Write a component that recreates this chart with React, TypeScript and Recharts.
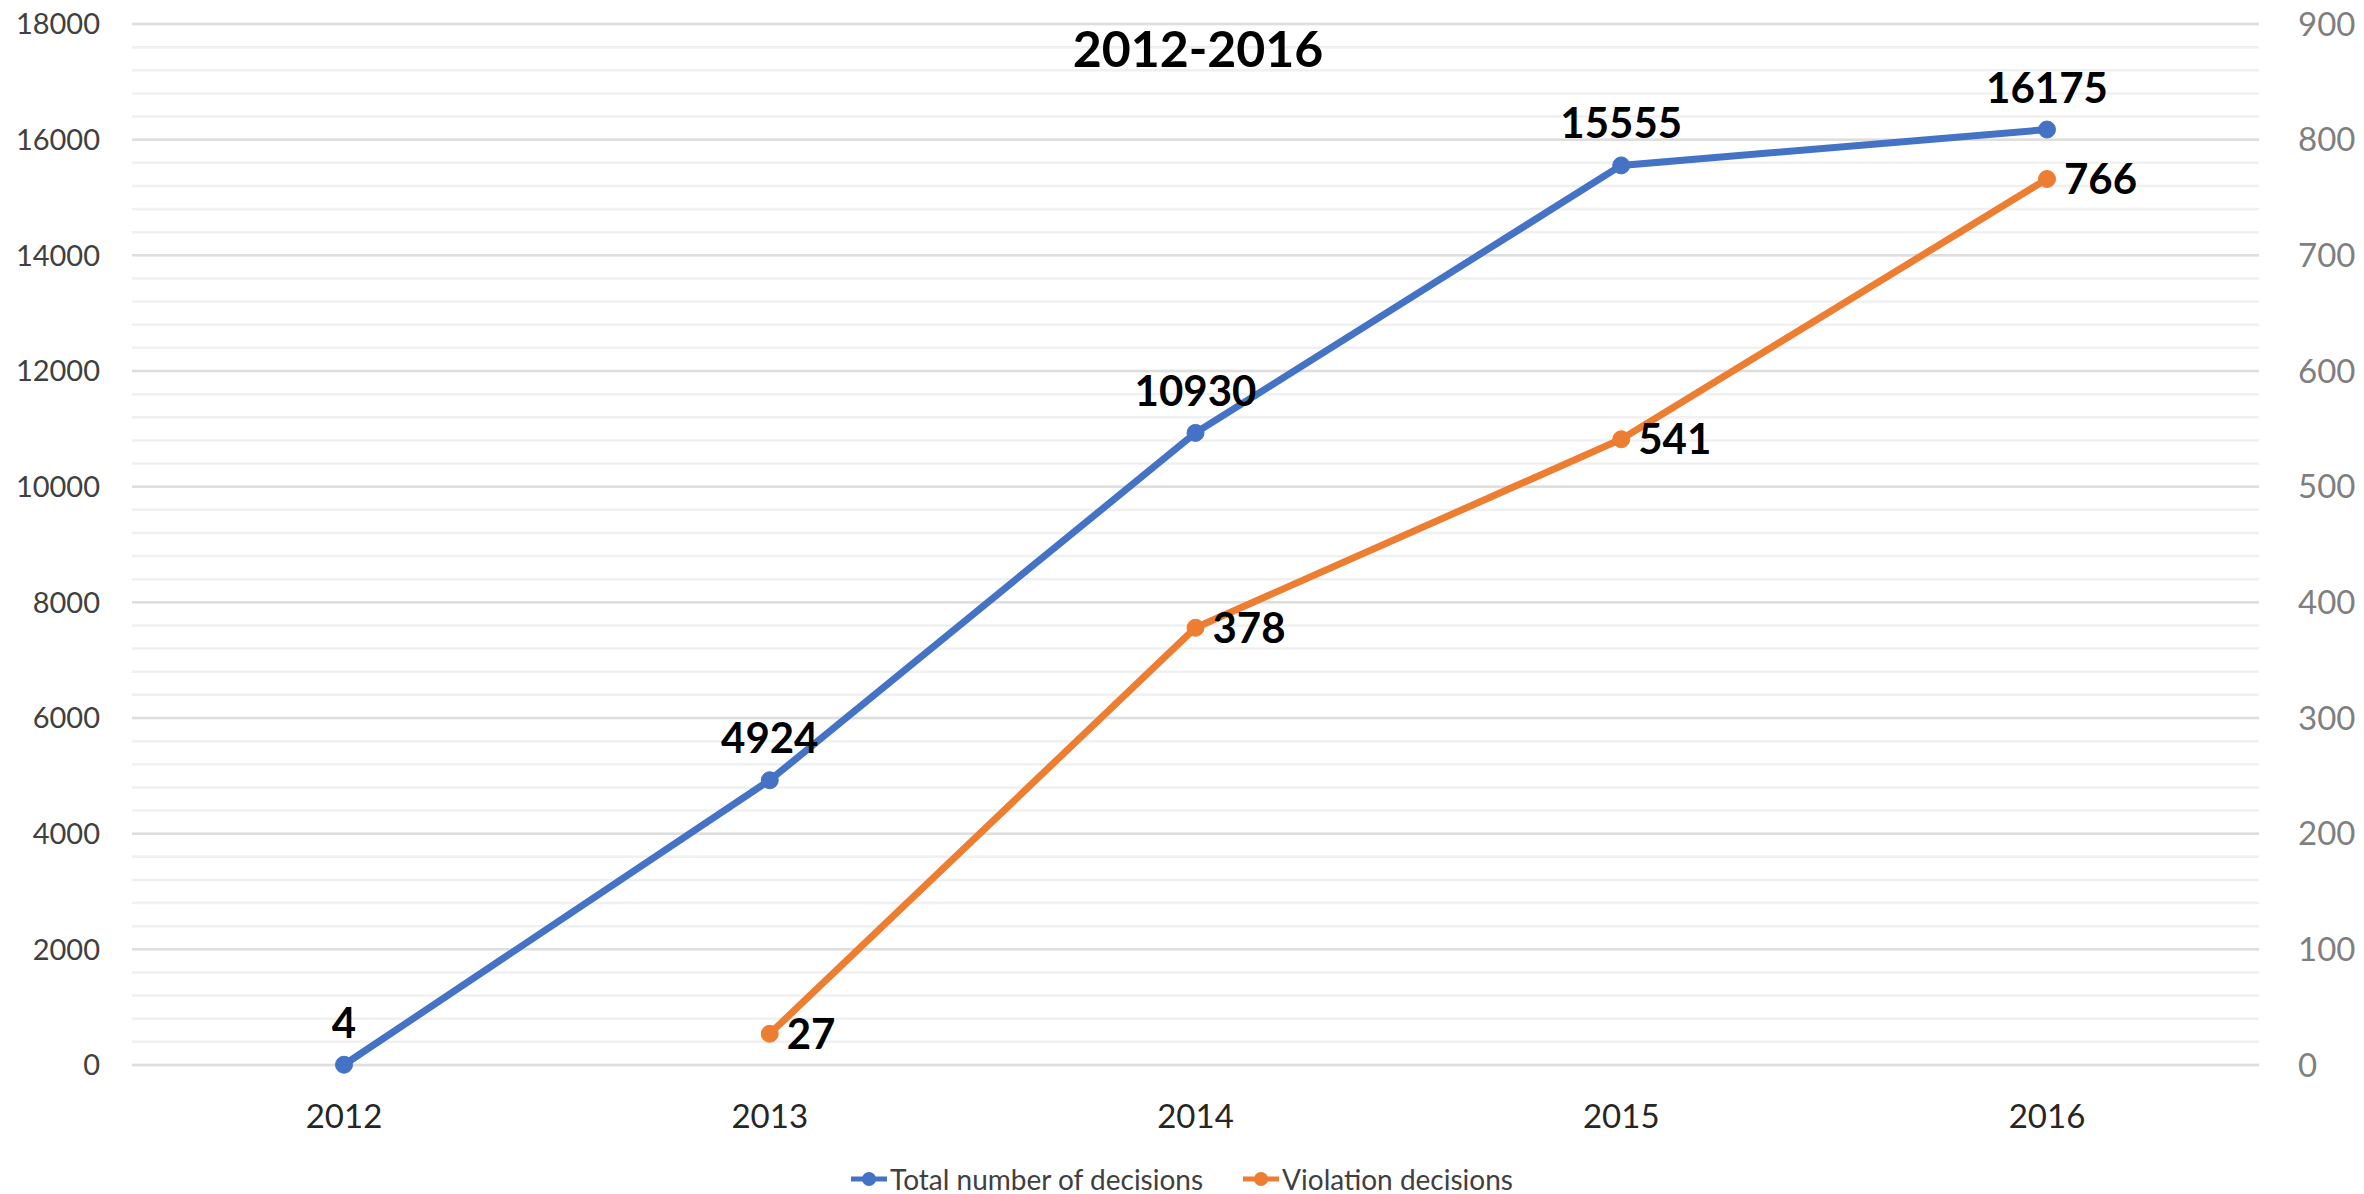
import { CartesianGrid, LabelList, Legend, Line, LineChart, XAxis, YAxis } from "recharts";

// data
const years = ["2012", "2013", "2014", "2015", "2016"];
const totalDecisions = [4, 4924, 10930, 15555, 16175];
const violationDecisions: (number | null)[] = [null, 27, 378, 541, 766];

const leftTicks = [0, 2000, 4000, 6000, 8000, 10000, 12000, 14000, 16000, 18000];
const rightTicks = [0, 100, 200, 300, 400, 500, 600, 700, 800, 900];
const minorTicks = Array.from({ length: 46 }, (_, i) => i * 400);

const BLUE = "#4472C4";
const ORANGE = "#ED7D31";
const FONT = "Lato, 'Noto Sans', sans-serif";

const data = years.map((year, i) => ({
  year,
  total: totalDecisions[i],
  violation: violationDecisions[i],
}));

function LegendContent({ payload }: any) {
  return (
    <div
      style={{
        display: "flex",
        justifyContent: "center",
        alignItems: "center",
        gap: 40,
        height: 30,
        lineHeight: "30px",
        fontFamily: FONT,
        fontSize: 28,
        color: "#404040",
      }}
    >
      {(payload || []).map((p: any) => (
        <div key={p.value} style={{ display: "flex", alignItems: "center", gap: 3 }}>
          <svg width={36} height={16}>
            <line x1={0} y1={8} x2={36} y2={8} stroke={p.color} strokeWidth={5} />
            <circle cx={18} cy={8} r={7} fill={p.color} />
          </svg>
          <span>{p.value}</span>
        </div>
      ))}
    </div>
  );
}

export default function App() {
  return (
    <div
      style={{
        position: "absolute",
        left: 0,
        top: 0,
        width: 2364,
        height: 1194,
        background: "#fff",
        fontFamily: FONT,
      }}
    >
      <div
        style={{
          position: "absolute",
          left: 0,
          width: 2396,
          top: 18,
          textAlign: "center",
          fontSize: 50,
          fontWeight: 700,
          color: "#000",
          zIndex: 2,
          lineHeight: "60px",
        }}
      >
        2012-2016
      </div>
      <LineChart
        width={2364}
        height={1194}
        data={data}
        margin={{ top: 24, right: 0, left: 0, bottom: 0 }}
      >
        {/* minor lines every 400, then the major ones on top */}
        <CartesianGrid
          yAxisId="left"
          vertical={false}
          stroke="#f0f0f0"
          strokeWidth={2.5}
          horizontalValues={minorTicks}
        />
        <CartesianGrid yAxisId="left" vertical={false} stroke="#dedede" strokeWidth={2.5} />
        <XAxis
          dataKey="year"
          axisLine={false}
          tickLine={false}
          tickSize={0}
          tickMargin={40}
          height={99}
          padding={{ left: 212, right: 212 }}
          tick={{ fill: "#262626", fontSize: 33, fontFamily: FONT }}
        />
        <YAxis
          yAxisId="left"
          domain={[0, 18000]}
          ticks={leftTicks}
          width={132}
          axisLine={false}
          tickLine={false}
          tickSize={0}
          tickMargin={32}
          tick={{ fill: "#404040", fontSize: 29, fontFamily: FONT }}
        />
        <YAxis
          yAxisId="right"
          orientation="right"
          domain={[0, 900]}
          ticks={rightTicks}
          width={105}
          axisLine={false}
          tickLine={false}
          tickSize={0}
          tickMargin={39}
          tick={{ fill: "#7f7f7f", fontSize: 33, fontFamily: FONT }}
        />
        <Legend verticalAlign="bottom" align="center" content={<LegendContent />} />
        <Line
          yAxisId="left"
          dataKey="total"
          name="Total number of decisions"
          stroke={BLUE}
          strokeWidth={7}
          dot={{ r: 8.5, fill: BLUE, stroke: BLUE, strokeWidth: 1 }}
          isAnimationActive={false}
        >
          <LabelList
            dataKey="total"
            position="top"
            offset={27}
            style={{ fill: "#000", fontSize: 42, fontWeight: 700, fontFamily: FONT }}
          />
        </Line>
        <Line
          yAxisId="right"
          dataKey="violation"
          name="Violation decisions"
          stroke={ORANGE}
          strokeWidth={7}
          dot={{ r: 8.5, fill: ORANGE, stroke: ORANGE, strokeWidth: 1 }}
          isAnimationActive={false}
        >
          <LabelList
            dataKey="violation"
            position="right"
            offset={17}
            style={{ fill: "#000", fontSize: 42, fontWeight: 700, fontFamily: FONT }}
          />
        </Line>
      </LineChart>
    </div>
  );
}
